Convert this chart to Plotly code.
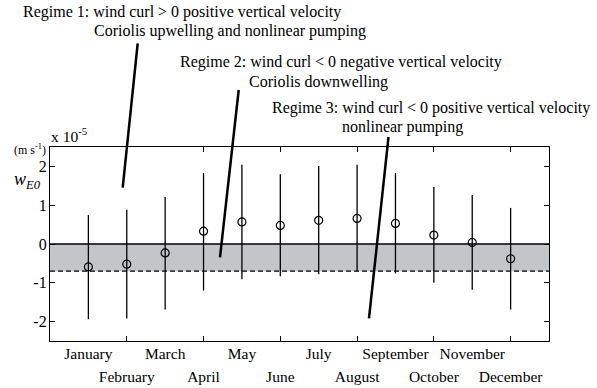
import plotly.graph_objects as go

months = ["January", "February", "March", "April", "May", "June",
          "July", "August", "September", "October", "November", "December"]
month_pos = list(range(1, 13))
w_mean = [-0.59, -0.52, -0.23, 0.33, 0.57, 0.48, 0.61, 0.66, 0.53, 0.23, 0.04, -0.38]
w_top = [0.75, 0.88, 1.21, 1.83, 2.04, 1.80, 2.01, 2.04, 1.83, 1.47, 1.26, 0.93]
w_bottom = [-1.94, -1.92, -1.69, -1.20, -0.91, -0.83, -0.78, -0.70, -0.76, -1.00, -1.18, -1.69]
threshold = -0.70
y_ticks = [-2, -1, 0, 1, 2]
y_ticktext = ["-2", "-1", "0", "1", "2"]

FONT = "Liberation Serif"
W, H = 597, 388
# plot area in screen pixels
L, R, T, B = 50, 549, 147, 341


def px(x):
    return (x - L) / (R - L)


def py(y):
    return (B - y) / (B - T)


err_plus = [t - m for t, m in zip(w_top, w_mean)]
err_minus = [m - b for m, b in zip(w_mean, w_bottom)]

fig = go.Figure()
fig.add_trace(go.Scatter(
    x=month_pos, y=w_mean, mode="markers",
    marker=dict(symbol="circle-open", size=8, color="black", line=dict(width=1.2, color="black")),
    error_y=dict(type="data", symmetric=False, array=err_plus, arrayminus=err_minus,
                 width=0, thickness=1.3, color="black"),
    showlegend=False, cliponaxis=False,
))
# invisible trace to activate xaxis2
fig.add_trace(go.Scatter(x=[month_pos[0]], y=[w_mean[0]], xaxis="x2", mode="markers",
                         marker=dict(opacity=0), showlegend=False, hoverinfo="skip"))

odd_idx = [i for i in range(12) if i % 2 == 0]
even_idx = [i for i in range(12) if i % 2 == 1]

fig.update_layout(
    width=W, height=H, autosize=False,
    margin=dict(l=L, r=W - R, t=T, b=H - B, pad=0, autoexpand=False),
    paper_bgcolor="white", plot_bgcolor="white",
    font=dict(family=FONT, size=15.5, color="black"),
    xaxis=dict(range=[0, 13], tickmode="array",
               tickvals=[month_pos[i] for i in odd_idx],
               ticktext=[months[i] for i in odd_idx],
               ticks="", showgrid=False, zeroline=False, automargin=False,
               showline=True, linecolor="black", linewidth=1.3, mirror=True,
               ticklabelstandoff=-2),
    xaxis2=dict(range=[0, 13], overlaying="x", side="bottom", anchor="y", tickmode="array",
                tickvals=[month_pos[i] for i in even_idx],
                ticktext=[months[i] for i in even_idx],
                ticks="inside", ticklen=5, tickwidth=1.2, tickcolor="black",
                showgrid=False, zeroline=False, automargin=False,
                showline=True, linecolor="black", linewidth=1.3, mirror="ticks",
                ticklabelstandoff=21),
    yaxis=dict(range=[-2.5, 2.5], tickmode="array", tickvals=y_ticks, ticktext=y_ticktext,
               ticks="inside", ticklen=5, tickwidth=1.2, tickcolor="black",
               showgrid=False, zeroline=False, automargin=False,
               showline=True, linecolor="black", linewidth=1.3, mirror="ticks",
               tickfont=dict(size=16), ticklabelstandoff=-1),
)

# shaded band between 0 and threshold
fig.add_shape(type="rect", xref="x", yref="y", x0=0, x1=13, y0=threshold, y1=0,
              fillcolor="#c2c6c8", line=dict(width=0), layer="below")
fig.add_shape(type="line", xref="x", yref="y", x0=0, x1=13, y0=0, y1=0,
              line=dict(color="black", width=1.3), layer="below")
fig.add_shape(type="line", xref="x", yref="y", x0=0, x1=13, y0=threshold, y1=threshold,
              line=dict(color="black", width=1.3, dash="5px,3px"), layer="below")

# leader lines (screen pixels)
leaders = [((137.7, 43.3), (122.7, 187.7)),
           ((238.7, 90.0), (220.0, 257.3)),
           ((388.5, 137.0), (369.0, 318.3))]
for (xa, ya), (xb, yb) in leaders:
    fig.add_shape(type="line", xref="paper", yref="paper",
                  x0=px(xa), y0=py(ya), x1=px(xb), y1=py(yb),
                  line=dict(color="black", width=2.5))

texts = [
    ("Regime 1: wind curl &gt; 0 positive vertical velocity", 21, 11.7),
    ("Coriolis upwelling and nonlinear pumping", 92.3, 30.7),
    ("Regime 2: wind curl &lt; 0 negative vertical velocity", 177.5, 61.5),
    ("Coriolis downwelling", 247, 81.7),
    ("Regime 3: wind curl &lt; 0 positive vertical velocity", 269.7, 108.3),
    ("nonlinear pumping", 340.3, 127.3),
]
for txt, x, y in texts:
    fig.add_annotation(text=txt, xref="paper", yref="paper", x=px(x), y=py(y),
                       xanchor="left", yanchor="middle", showarrow=False,
                       font=dict(family=FONT, size=16, color="black"))

fig.add_annotation(text="x 10<sup>-5</sup>", xref="paper", yref="paper", x=px(49), y=py(135),
                   xanchor="left", yanchor="middle", showarrow=False,
                   font=dict(family=FONT, size=15.5, color="black"))
fig.add_annotation(text="(m s<sup>-1</sup>)", xref="paper", yref="paper", x=px(11.5), y=py(149),
                   xanchor="left", yanchor="middle", showarrow=False,
                   font=dict(family=FONT, size=12, color="black"))
fig.add_annotation(text="<i>w</i><sub><i>E0</i></sub>", xref="paper", yref="paper", x=px(11.5), y=py(180),
                   xanchor="left", yanchor="middle", showarrow=False,
                   font=dict(family=FONT, size=18, color="black"))

fig.write_html("out.html", config={"displayModeBar": False},
               post_script="document.body.style.margin='0px';")
